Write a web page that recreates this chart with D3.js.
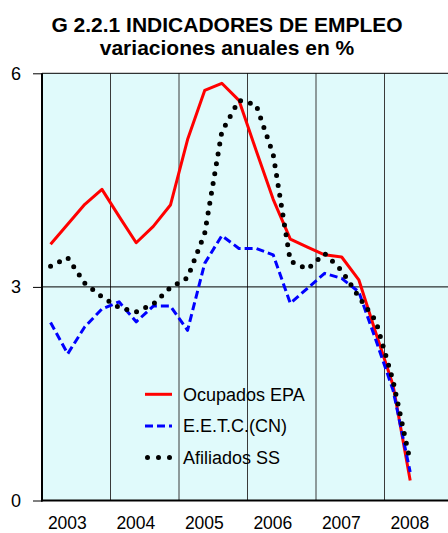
<!DOCTYPE html>
<html lang="es">
<head>
    <meta charset="UTF-8">
    <title>G 2.2.1 Indicadores de empleo</title>
    <script src="https://d3js.org/d3.v7.min.js"></script>
    <style>
        body {
            margin: 0;
            background: #fff;
            font-family: 'Liberation Sans', Arial, sans-serif;
        }
        svg { display: block; }
        .title { font-weight: bold; font-size: 21px; fill: #000; }
        .tick text { font-size: 18px; fill: #000; }
        .legend text { font-size: 18px; fill: #000; }
    </style>
</head>
<body>
    <svg id="chart"></svg>

    <script>
        const width = 448;
        const height = 533;

        // years and quarters on the category axis
        const years = ["2003", "2004", "2005", "2006", "2007", "2008"];
        const quarterNames = ["T1", "T2", "T3", "T4"];

        // annual changes in %, quarterly, 2003 T1 .. 2008 T2
        const ocupadosEPA = [3.60, 3.88, 4.16, 4.37, 3.99, 3.62, 3.85, 4.15, 5.07, 5.76, 5.86, 5.62,
                             4.92, 4.23, 3.67, 3.56, 3.45, 3.42, 3.10, 2.35, 1.62, 0.28];
        const eetcCN = [2.50, 2.06, 2.44, 2.69, 2.79, 2.51, 2.73, 2.73, 2.39, 3.33, 3.72, 3.54,
                        3.54, 3.45, 2.77, 2.98, 3.19, 3.12, 2.93, 2.25, 1.55, 0.40];
        const afiliadosSS = [3.29, 3.41, 3.05, 2.86, 2.71, 2.65, 2.76, 2.99, 3.13, 3.75, 5.18, 5.62,
                             5.56, 4.86, 3.36, 3.25, 3.47, 3.23, 2.86, 2.52, 1.68, 0.55];

        const yTicks = [0, 3, 6];

        const periods = years.flatMap(y => quarterNames.map(q => y + q));

        const series = [
            { name: "Ocupados EPA", values: ocupadosEPA, color: "#ff0000", dash: null, width: 3 },
            { name: "E.E.T.C.(CN)", values: eetcCN, color: "#0000ff", dash: "8,4", width: 3 },
            { name: "Afiliados SS", values: afiliadosSS, color: "#000000", dash: "0,10", width: 5, round: true }
        ];

        const plotLeft = 42, plotRight = 453, plotTop = 73.3, plotBottom = 500.5;

        const x = d3.scaleBand().domain(periods).range([plotLeft, plotRight]).paddingInner(0).paddingOuter(0);
        const y = d3.scaleLinear().domain([0, 6]).range([plotBottom, plotTop]);
        const bw = x.bandwidth();

        const svg = d3.select("#chart")
            .attr("width", width)
            .attr("height", height);

        // title
        svg.append("text").attr("class", "title")
            .attr("x", 227).attr("y", 31.5).attr("text-anchor", "middle")
            .text("G 2.2.1 INDICADORES DE EMPLEO");
        svg.append("text").attr("class", "title")
            .attr("x", 227).attr("y", 55).attr("text-anchor", "middle")
            .text("variaciones anuales en %");

        // plot background
        svg.append("rect")
            .attr("x", plotLeft).attr("y", plotTop)
            .attr("width", plotRight - plotLeft).attr("height", plotBottom - plotTop)
            .attr("fill", "#e0fafb");

        // year separators
        svg.append("g")
            .selectAll("line")
            .data(years.slice(1))
            .join("line")
            .attr("x1", d => x(d + "T1")).attr("x2", d => x(d + "T1"))
            .attr("y1", plotTop).attr("y2", plotBottom)
            .attr("stroke", "#3a3a3a")
            .attr("stroke-width", 1);

        // horizontal grid at 3 and 6
        svg.append("g")
            .selectAll("line")
            .data(yTicks.filter(d => d > 0))
            .join("line")
            .attr("x1", plotLeft).attr("x2", width)
            .attr("y1", d => y(d)).attr("y2", d => y(d))
            .attr("stroke", "#000")
            .attr("stroke-width", 1);

        // y axis
        const yAxis = svg.append("g")
            .attr("transform", `translate(${plotLeft},0)`)
            .call(d3.axisLeft(y).tickValues(yTicks).tickSize(9).tickPadding(12).tickFormat(d3.format("d")));
        yAxis.select(".domain").remove();
        yAxis.selectAll(".tick line").attr("stroke", "#000");
        yAxis.attr("font-family", null).attr("font-size", null);

        // axis lines
        svg.append("line")
            .attr("x1", plotLeft).attr("x2", plotLeft).attr("y1", plotTop).attr("y2", plotBottom + 1)
            .attr("stroke", "#000").attr("stroke-width", 2);
        svg.append("line")
            .attr("x1", plotLeft - 1).attr("x2", width).attr("y1", plotBottom).attr("y2", plotBottom)
            .attr("stroke", "#000").attr("stroke-width", 2);

        // year labels
        svg.append("g")
            .selectAll("text")
            .data(years)
            .join("text")
            .attr("x", d => x(d + "T2") + bw * 0.48)
            .attr("y", 528.5)
            .attr("text-anchor", "middle")
            .attr("font-size", 17.5)
            .text(d => d);

        // series lines
        const line = d3.line()
            .x((d, i) => x(periods[i]) + bw / 2)
            .y(d => y(d));

        svg.append("g")
            .selectAll("path")
            .data(series)
            .join("path")
            .attr("d", d => line(d.values))
            .attr("fill", "none")
            .attr("stroke", d => d.color)
            .attr("stroke-width", d => d.width)
            .attr("stroke-dasharray", d => d.dash)
            .attr("stroke-linecap", d => d.round ? "round" : "butt")
            .attr("stroke-linejoin", "round");

        // legend
        const legend = svg.append("g").attr("class", "legend");
        const legendRows = legend.selectAll("g")
            .data(series)
            .join("g")
            .attr("transform", (d, i) => `translate(145,${394.3 + i * 31.6})`);

        legendRows.append("line")
            .attr("x1", d => d.round ? 2.5 : 0).attr("x2", 27)
            .attr("y1", 0).attr("y2", 0)
            .attr("stroke", d => d.color)
            .attr("stroke-width", d => d.width)
            .attr("stroke-dasharray", d => d.round ? "0,11" : d.dash)
            .attr("stroke-linecap", d => d.round ? "round" : "butt");

        legendRows.append("text")
            .attr("x", 38)
            .attr("y", 0)
            .attr("dy", "0.36em")
            .text(d => d.name);
    </script>
</body>
</html>
